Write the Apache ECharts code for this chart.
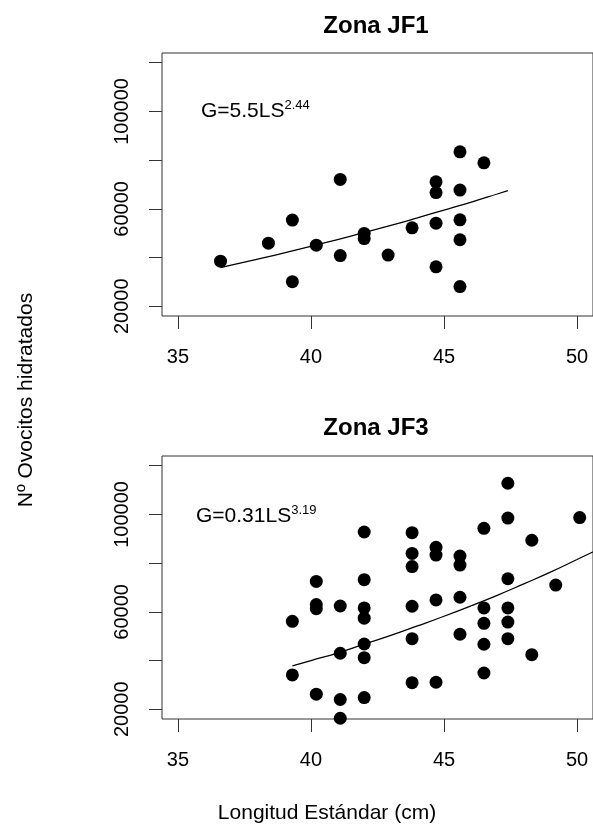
<!DOCTYPE html>
<html><head><meta charset="utf-8">
<script src="https://cdn.jsdelivr.net/npm/echarts@6/dist/echarts.min.js"></script>
<style>html,body{margin:0;padding:0;background:#fff}#c{width:593px;height:827px}</style>
</head><body><div id="c"></div>
<script>
// Zona JF1
const jf1X = [36.6, 38.4, 39.3, 39.3, 40.2, 41.1, 41.1, 42.0, 42.0, 42.9, 43.8, 44.7, 44.7, 44.7, 44.7, 45.6, 45.6, 45.6, 45.6, 45.6, 46.5];
const jf1Y = [38500, 45900, 55400, 30100, 45100, 72100, 40800, 49900, 47800, 41000, 52200, 71100, 66700, 54100, 36200, 83400, 67700, 55500, 47300, 28100, 78900];
const jf1CurveX = [36.6, 37, 38, 39, 40, 41, 42, 43, 44, 45, 46, 47, 47.4];
const jf1CurveY = [35900, 36900, 39400, 41900, 44600, 47400, 50300, 53200, 56300, 59500, 62700, 66100, 67500];
// Zona JF3
const jf3X = [39.3, 39.3, 40.2, 40.2, 40.2, 40.2, 41.1, 41.1, 41.1, 41.1,
  42.0, 42.0, 42.0, 42.0, 42.0, 42.0, 42.0,
  43.8, 43.8, 43.8, 43.8, 43.8, 43.8,
  44.7, 44.7, 44.7, 44.7,
  45.6, 45.6, 45.6, 45.6,
  46.5, 46.5, 46.5, 46.5, 46.5,
  47.4, 47.4, 47.4, 47.4, 47.4, 47.4,
  48.3, 48.3, 49.2, 50.1];
const jf3Y = [56100, 34100, 72500, 63000, 61300, 26200, 62400, 43000, 24000, 16300,
  92800, 73200, 61600, 57400, 46800, 41200, 24800,
  92500, 84000, 78600, 62300, 49000, 30900,
  86500, 83300, 64900, 31100,
  82900, 79200, 66000, 50800,
  94300, 61600, 55300, 46700, 34900,
  112800, 98500, 73600, 61600, 55800, 49000,
  89400, 42400, 71000, 98700];
const jf3CurveX = [39.3, 40, 41, 42, 43, 44, 45, 46, 47, 48, 49, 50, 51];
const jf3CurveY = [37800, 40000, 43100, 46700, 50300, 54200, 58200, 62400, 66800, 71500, 76300, 81500, 86700];

const titles = ['Zona JF1', 'Zona JF3'];
const formulaBase = ['G=5.5LS', 'G=0.31LS'];
const formulaExp = ['2.44', '3.19'];
const xTicks = [35, 40, 45, 50];
const yTicks = [20000, 40000, 60000, 80000, 100000, 120000];
const yTickLabels = [20000, 60000, 100000];
const xName = 'Longitud Estándar (cm)';
const yName = 'Nº Ovocitos hidratados';

const FONT = '"Liberation Sans", Arial, Helvetica, sans-serif';
const INK = '#000';
const LINE = '#333';

const gridTops = [53, 456];
const grids = gridTops.map(t => ({left: 162, right: -3, top: t, height: 263,
  show: true, borderColor: LINE, borderWidth: 1, backgroundColor: 'transparent'}));

function xAxisFor(i) {
  return {gridIndex: i, type: 'value', min: 34.4, max: 50.6,
    axisLine: {show: false, onZero: false},
    axisTick: {show: true, length: 13, customValues: xTicks, lineStyle: {color: LINE, width: 1}},
    axisLabel: {customValues: xTicks, fontSize: 20, fontFamily: FONT, color: INK, margin: 31,
      formatter: v => String(v)},
    splitLine: {show: false}};
}
function yAxisFor(i) {
  return {gridIndex: i, type: 'value', min: 16000, max: 124000,
    axisLine: {show: false, onZero: false},
    axisTick: {show: true, length: 13, customValues: yTicks, lineStyle: {color: LINE, width: 1}},
    axisLabel: {customValues: yTickLabels, rotate: 90, fontSize: 20, fontFamily: FONT, color: INK, margin: 30,
      formatter: v => String(v)},
    splitLine: {show: false}};
}

const zip = (xs, ys) => xs.map((x, i) => [x, ys[i]]);

const series = [
  {type: 'scatter', xAxisIndex: 0, yAxisIndex: 0, data: zip(jf1X, jf1Y), symbolSize: 13,
    itemStyle: {color: INK, opacity: 1}, silent: true},
  {type: 'line', xAxisIndex: 0, yAxisIndex: 0, data: zip(jf1CurveX, jf1CurveY), showSymbol: false,
    smooth: true, clip: true, lineStyle: {color: INK, width: 1.3}, silent: true},
  {type: 'scatter', xAxisIndex: 1, yAxisIndex: 1, data: zip(jf3X, jf3Y), symbolSize: 13,
    itemStyle: {color: INK, opacity: 1}, silent: true},
  {type: 'line', xAxisIndex: 1, yAxisIndex: 1, data: zip(jf3CurveX, jf3CurveY), showSymbol: false,
    smooth: true, clip: true, lineStyle: {color: INK, width: 1.3}, silent: true}
];

const titleY = [26, 428];
const formulaPos = [[201, 99], [196, 504]];

const graphic = [];
titles.forEach((t, i) => {
  graphic.push({type: 'text', x: 376, y: titleY[i], style: {text: t, fill: INK,
    font: 'bold 24px ' + FONT, textAlign: 'center', textVerticalAlign: 'middle'}});
  graphic.push({type: 'text', x: formulaPos[i][0], y: formulaPos[i][1], style: {
    text: '{a|' + formulaBase[i] + '}{s|' + formulaExp[i] + '}', fill: INK,
    rich: {a: {fontSize: 21, fontFamily: FONT, lineHeight: 24, fill: INK},
           s: {fontSize: 13, fontFamily: FONT, verticalAlign: 'top', fill: INK}}}});
});
graphic.push({type: 'text', x: 327, y: 813, style: {text: xName, fill: INK,
  font: '21px ' + FONT, textAlign: 'center', textVerticalAlign: 'middle'}});
graphic.push({type: 'text', x: 26, y: 400, rotation: Math.PI / 2, style: {text: yName, fill: INK,
  font: '21px ' + FONT, textAlign: 'center', textVerticalAlign: 'middle'}});

const chart = echarts.init(document.getElementById('c'), null, {renderer: 'canvas'});
chart.setOption({
  animation: false,
  backgroundColor: '#fff',
  grid: grids,
  xAxis: [xAxisFor(0), xAxisFor(1)],
  yAxis: [yAxisFor(0), yAxisFor(1)],
  series: series,
  graphic: graphic
});
</script></body></html>
